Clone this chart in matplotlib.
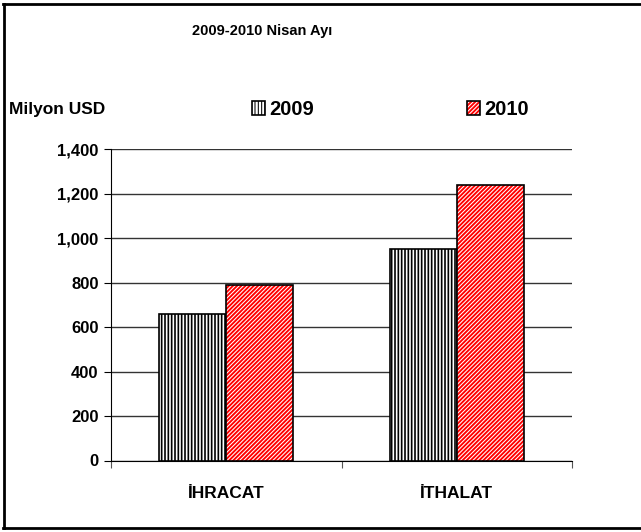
import matplotlib
matplotlib.use("Agg")
import matplotlib.pyplot as plt
from matplotlib.lines import Line2D
import numpy as np

categories = ["İHRACAT", "İTHALAT"]
years = ["2009", "2010"]
values_2009 = [660, 950]
values_2010 = [790, 1240]
y_ticks = [0, 200, 400, 600, 800, 1000, 1200, 1400]

plt.rcParams["font.family"] = ["Liberation Sans", "DejaVu Sans"]
plt.rcParams["font.weight"] = "bold"

W, H = 641, 532
fig = plt.figure(figsize=(W / 100, H / 100), dpi=100)
ax = fig.add_axes([111 / W, 1 - 460.5 / H, 461 / W, (460.5 - 149.3) / H])

x = np.arange(len(categories))
bw = 0.29

# 2009: black vertical hatch on white
plt.rcParams["hatch.linewidth"] = 1.2
b09 = ax.bar(x - bw / 2, values_2009, bw, facecolor="white", edgecolor="black",
             hatch="|||||", linewidth=1.2, zorder=3)
# 2010: red fill with white diagonal hatch, then a black outline on top
plt.rcParams["hatch.linewidth"] = 0.75
b10h = ax.bar(x + bw / 2, values_2010, bw, facecolor="#ff0000", edgecolor="white",
              hatch="////////", linewidth=0, zorder=3)
b10o = ax.bar(x + bw / 2, values_2010, bw, facecolor="none", edgecolor="black",
              linewidth=1.2, zorder=4)

ax.set_xlim(-0.5, 1.5)
ax.set_ylim(0, 1400)
ax.set_yticks(y_ticks)
ax.set_yticklabels([f"{v:,}" for v in y_ticks], fontsize=12, fontweight="bold")
ax.yaxis.grid(True, color="#333333", linewidth=1.0, zorder=0)
ax.set_axisbelow(True)

ax.set_xticks([-0.5, 0.5, 1.5])
ax.set_xticklabels([])
ax.set_xticks(x, minor=True)
ax.set_xticklabels(categories, minor=True, fontsize=12.5, fontweight="bold")
ax.tick_params(axis="x", which="minor", length=0, pad=18)
ax.tick_params(axis="x", which="major", length=5, direction="out", color="#555555")
ax.tick_params(axis="y", length=5, direction="out", pad=4)

for s in ["top", "right"]:
    ax.spines[s].set_visible(False)
ax.spines["left"].set_color("black")
ax.spines["bottom"].set_color("black")

fig.text(262 / W, 1 - 31 / H, "2009-2010 Nisan Ayı", ha="center", va="center",
         fontsize=10.5, fontweight="bold")
fig.text(9 / W, 1 - 109.5 / H, "Milyon USD", ha="left", va="center",
         fontsize=12.5, fontweight="bold")

leg = fig.legend([b09[0], (b10h[0], b10o[0])], years, ncol=2,
                 loc="center left", bbox_to_anchor=(252 / W, 1 - 109.5 / H),
                 frameon=False, prop={"weight": "bold", "size": 14.5},
                 handlelength=0.65, handleheight=0.65, handletextpad=0.2,
                 columnspacing=7.6, borderpad=0, borderaxespad=0)

# page frame: left, top and bottom edges
frame_kw = dict(color="black", linewidth=2, transform=fig.transFigure)
fig.add_artist(Line2D([4 / W, 4 / W], [1 - 4 / H, 1 - 528 / H], **frame_kw))
fig.add_artist(Line2D([3 / W, 1.0], [1 - 4 / H, 1 - 4 / H], **frame_kw))
fig.add_artist(Line2D([3 / W, 1.0], [1 - 528 / H, 1 - 528 / H], **frame_kw))

fig.savefig("out.png", dpi=100)
